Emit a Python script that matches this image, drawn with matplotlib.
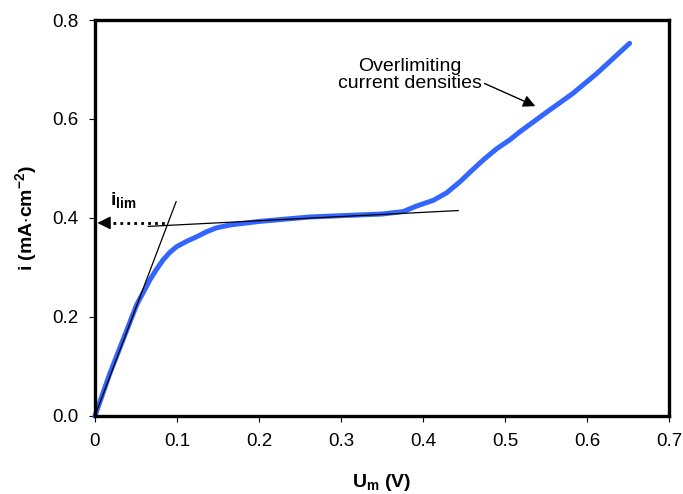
import matplotlib.pyplot as plt

plt.rcParams['font.family'] = ['Liberation Sans', 'DejaVu Sans']
plt.rcParams['mathtext.fontset'] = 'custom'
plt.rcParams['mathtext.rm'] = 'Liberation Sans'
plt.rcParams['mathtext.bf'] = 'Liberation Sans:bold'

# curve
u_m = [0.0, 0.018, 0.0345, 0.051, 0.060, 0.067, 0.075, 0.083, 0.091, 0.0996,
       0.112, 0.124, 0.136, 0.148, 0.165, 0.2, 0.262, 0.32, 0.350, 0.376,
       0.392, 0.413, 0.429, 0.445, 0.457, 0.474, 0.490, 0.506, 0.518, 0.551,
       0.583, 0.612, 0.652]
i_cur = [0.0, 0.085, 0.155, 0.225, 0.253, 0.275, 0.296, 0.315, 0.330, 0.342,
         0.353, 0.362, 0.372, 0.380, 0.386, 0.393, 0.402, 0.406, 0.408, 0.413,
         0.424, 0.436, 0.451, 0.473, 0.492, 0.518, 0.540, 0.558, 0.574, 0.614,
         0.652, 0.692, 0.753]

# tangent lines
tan1_x = [0.0, 0.099]
tan1_y = [0.0, 0.433]
tan2_x = [0.065, 0.443]
tan2_y = [0.383, 0.415]

# i_lim pointer
ilim = 0.390
dots_x = [0.014, 0.087]

x_ticks = [0, 0.1, 0.2, 0.3, 0.4, 0.5, 0.6, 0.7]
x_labels = ['0', '0.1', '0.2', '0.3', '0.4', '0.5', '0.6', '0.7']
y_ticks = [0.0, 0.2, 0.4, 0.6, 0.8]
y_labels = ['0.0', '0.2', '0.4', '0.6', '0.8']

fig = plt.figure(figsize=(6.83, 4.94), dpi=100)
ax = fig.add_axes([0.139, 0.158, 0.8405, 0.8015])

ax.plot(u_m, i_cur, color='#3366ff', lw=3.6, solid_capstyle='round',
        solid_joinstyle='round', clip_on=False, zorder=2)
ax.plot(tan1_x, tan1_y, color='black', lw=0.9, zorder=3)
ax.plot(tan2_x, tan2_y, color='black', lw=0.9, zorder=3)

# dotted line + solid head pointing at the y axis
ax.plot(dots_x, [ilim, ilim], color='black', lw=2.0, linestyle=(0, (1, 1.5)), zorder=3)
ax.annotate('', xy=(0.003, ilim), xytext=(0.016, ilim),
            arrowprops=dict(arrowstyle='-|>', color='black', lw=1.0,
                            mutation_scale=20, shrinkA=0, shrinkB=0))
ax.text(0.018, 0.436, r'$\mathbf{i_{lim}}$', fontsize=14, ha='left', va='center')

ax.annotate('Overlimiting\ncurrent densities', xy=(0.537, 0.626), xytext=(0.384, 0.688),
            ha='center', va='center', fontsize=14, linespacing=1.0,
            arrowprops=dict(arrowstyle='-|>', color='black', lw=1.0, mutation_scale=18,
                            shrinkA=0, shrinkB=0, relpos=(1.0, 0.3)))

ax.set_xlim(0, 0.7)
ax.set_ylim(0, 0.8)
ax.set_xticks(x_ticks)
ax.set_xticklabels(x_labels)
ax.set_yticks(y_ticks)
ax.set_yticklabels(y_labels)
ax.tick_params(direction='out', length=4, width=0.8, labelsize=13.5, pad=8)
ax.tick_params(axis='x', pad=8)
for s in ax.spines.values():
    s.set_linewidth(2.4)

ax.set_xlabel(r'$\mathbf{U_m}$ (V)', fontsize=14, fontweight='bold', labelpad=16)
ax.set_ylabel(r'i (mA$\cdot$cm$^{\mathbf{-2}}$)', fontsize=14, fontweight='bold', labelpad=9)

fig.savefig('out.png', dpi=100)
